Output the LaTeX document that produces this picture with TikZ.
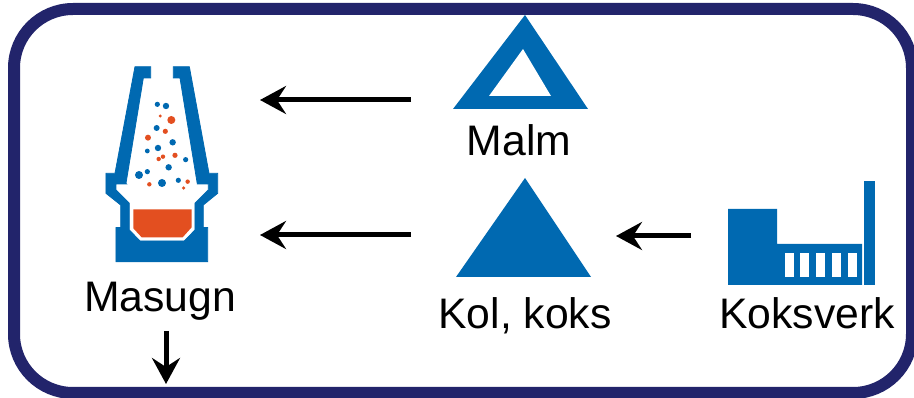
\documentclass[tikz,border=0pt]{standalone}
\usepackage{fontspec}
\setmainfont{Liberation Sans}
\usetikzlibrary{arrows.meta}
\definecolor{framec}{HTML}{22246B}
\definecolor{iconb}{HTML}{0069B1}
\definecolor{icono}{HTML}{E34F20}
\tikzset{
  x=1pt,y=-1pt,
  frameline/.style={draw=framec,line width=12pt,rounded corners=59pt},
  iconshape/.style={fill=iconb,draw=none},
  hollow/.style={fill=white,draw=none},
  hot/.style={fill=icono,draw=none},
  lab/.style={font=\fontsize{42.7}{45}\selectfont,text=black,inner sep=0pt,anchor=base},
  flow/.style={draw=black,line width=5pt,-{Stealth[length=26pt,width=28pt,inset=9pt]}},
}
\begin{document}
\begin{tikzpicture}
\clip (0,0) rectangle (914,398);
\fill[white] (0,0) rectangle (914,398);
\draw[frameline] (14,9) rectangle (912,393);
% Masugn icon
\begin{scope}[shift={(90,50)},x=0.3333pt,y=-0.3333pt]
\filldraw[iconshape,draw=iconb,line width=0.8pt,line join=miter] (135,50)--(182,50)--(182,84)--(160,84)--(108,400)--(110,402)--(78,402)--(78,420)--(118,460)--(118,540)--(150,573)--(283,573)--(315,540)--(315,460)--(355,420)--(355,402)--(322,402)--(270,84)--(250,84)--(250,50)--(298,50)--(357,370)--(383,370)--(383,430)--(340,465)--(340,533)--(353,533)--(353,635)--(78,635)--(78,533)--(92,533)--(92,465)--(48,430)--(48,370)--(75,370)--cycle;
\fill[hot] (130,478)--(305,478)--(305,532)--(278,562)--(155,562)--(130,535)--cycle;
\foreach \a/\b/\r in {202/163/2.6,228/168/3.2,200/234/3,172/303/2.4,204/294/3.2,248/277/3.2,287/329/2.6,236/352/3.2,147/375/4,172/365/2.6,216/399/4,265/391/2.6}
  \fill[iconshape] (\a,\b) circle[radius=\r pt];
\foreach \a/\b/\r in {211/198/1.6,244/210/4,226/244/2.6,174/263/3,255/316/2.6,219/320/2.2,206/327/2.2,178/403/2.2,293/395/2.2,281/414/1.8}
  \fill[hot] (\a,\b) circle[radius=\r pt];
\end{scope}
% Malm icon
\fill[iconshape] (525,15)--(588,109)--(453,109)--cycle;
\fill[hollow] (523,49)--(551,96)--(489,96)--cycle;
% Kol icon
\fill[iconshape] (525,178)--(591,277)--(456,277)--cycle;
% Koksverk icon
\fill[iconshape] (728,209)--(777,209)--(777,244)--(862,244)--(862,285)--(728,285)--cycle;
\fill[iconshape] (864,181)--(875,181)--(875,285)--(864,285)--cycle;
\foreach \a in {785,800,816,832,848}
  \fill[hollow] (\a,253) rectangle ++(9,24);
% Labels
\node[lab] (malm) at (519,156) {Malm};
\node[lab] (kol) at (525,329) {Kol, koks};
\node[lab] (koksverk) at (807,329) {Koksverk};
\node[lab] (masugn) at (160,312) {Masugn};
% Connector ends
\coordinate (malmout) at (411,100);
\coordinate (malmin) at (260,100);
\coordinate (kolout) at (411,235);
\coordinate (kolin) at (260,235);
\coordinate (koksout) at (691,236);
\coordinate (koksin) at (616,236);
\coordinate (masout) at (166,331);
\coordinate (masend) at (166,384);
\draw[flow] (malmout) -- (malmin);
\draw[flow] (kolout) -- (kolin);
\draw[flow] (koksout) -- (koksin);
\draw[flow] (masout) -- (masend);
\end{tikzpicture}
\end{document}
